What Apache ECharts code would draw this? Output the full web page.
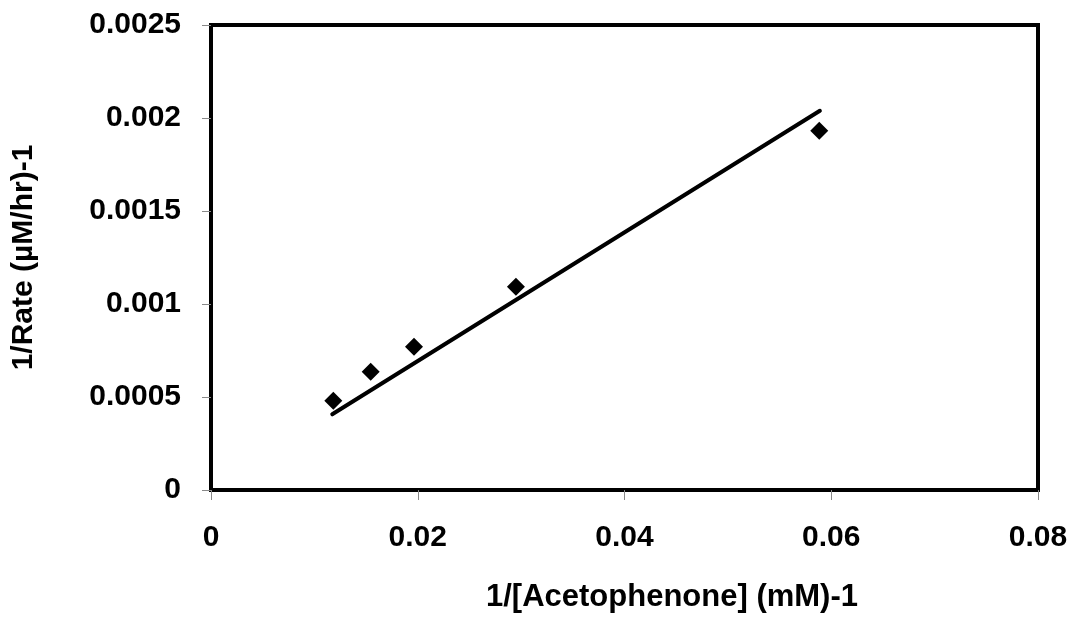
<!DOCTYPE html>
<html>
<head>
<meta charset="utf-8">
<script src="https://cdn.jsdelivr.net/npm/echarts@6/dist/echarts.min.js"></script>
<style>
html,body{margin:0;padding:0;background:#fff;}
#chart{width:1071px;height:619px;}
</style>
</head>
<body>
<div id="chart"></div>
<script>
// Data
const xValues = [0.01183, 0.01545, 0.01964, 0.02950, 0.05884];
const yValues = [0.000480, 0.000636, 0.000770, 0.001093, 0.001932];
const fitX = [0.01173, 0.0589];
const fitY = [0.000407, 0.002039];
const xTicks = [0, 0.02, 0.04, 0.06, 0.08];
const yTicks = [0, 0.0005, 0.001, 0.0015, 0.002, 0.0025];
const xTitle = '1/[Acetophenone] (mM)-1';
const yTitle = '1/Rate (\u00B5M/hr)-1';

const font = '"Liberation Sans", Arial, sans-serif';
const chart = echarts.init(document.getElementById('chart'), null, {renderer: 'canvas'});
const fmt = v => String(+Number(v).toFixed(5));

chart.setOption({
  animation: false,
  backgroundColor: '#fff',
  title: {
    text: xTitle,
    left: 486,
    top: 582,
    padding: 0,
    textStyle: {fontFamily: font, fontWeight: 'bold', fontSize: 31, color: '#000'}
  },
  grid: {
    left: 211, right: 33, top: 25, bottom: 129,
    show: true, borderColor: '#000', borderWidth: 4, backgroundColor: '#fff'
  },
  xAxis: {
    type: 'value',
    min: xTicks[0], max: xTicks[xTicks.length - 1], interval: 0.02,
    splitLine: {show: false},
    axisLine: {show: false},
    axisTick: {show: true, length: 10, lineStyle: {color: '#888', width: 1}},
    axisLabel: {
      margin: 33, fontFamily: font, fontWeight: 'bold', fontSize: 30, color: '#000',
      formatter: fmt
    }
  },
  yAxis: {
    type: 'value',
    min: yTicks[0], max: yTicks[yTicks.length - 1], interval: 0.0005,
    name: yTitle,
    nameLocation: 'middle',
    nameRotate: 90,
    nameGap: 172,
    nameTextStyle: {fontFamily: font, fontWeight: 'bold', fontSize: 30, color: '#000'},
    splitLine: {show: false},
    axisLine: {show: false},
    axisTick: {show: true, length: 9, lineStyle: {color: '#888', width: 1}},
    axisLabel: {
      margin: 30, fontFamily: font, fontWeight: 'bold', fontSize: 30, color: '#000',
      formatter: fmt
    }
  },
  series: [
    {
      type: 'line',
      data: fitX.map((x, i) => [x, fitY[i]]),
      showSymbol: false,
      symbol: 'none',
      lineStyle: {color: '#000', width: 4, cap: 'round'},
      z: 2
    },
    {
      type: 'scatter',
      data: xValues.map((x, i) => [x, yValues[i]]),
      symbol: 'diamond',
      symbolSize: 18,
      itemStyle: {color: '#000', opacity: 1},
      z: 3
    }
  ]
});
</script>
</body>
</html>
